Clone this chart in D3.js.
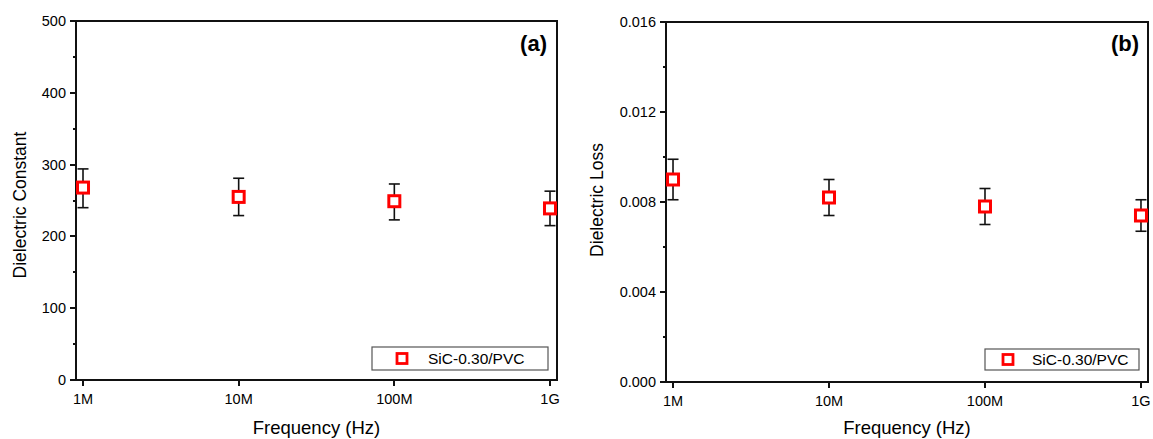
<!DOCTYPE html>
<html>
<head>
<meta charset="utf-8">
<script src="https://cdn.jsdelivr.net/npm/d3@7"></script>
<style>
  body { margin: 0; background: #fff; }
  svg { display: block; font-family: "Liberation Sans", Arial, sans-serif; }
  .axis-line { stroke: #111; stroke-width: 2; fill: none; shape-rendering: crispEdges; }
  .tick-line { stroke: #111; stroke-width: 2; shape-rendering: crispEdges; }
  .err { stroke: #111; stroke-width: 1.6; }
</style>
</head>
<body>
<svg id="chart" width="1153" height="439"></svg>
<script>
// ---- Data ----
var FREQS = [1e6, 1e7, 1e8, 1e9];
var FREQ_LABELS = ['1M', '10M', '100M', '1G'];
var SERIES_NAME = 'SiC-0.30/PVC';

var CONST_VALUES = [268, 255, 249, 239];
var CONST_ERR_LO = [240, 229, 223, 215];
var CONST_ERR_HI = [294, 281, 273, 263];
var CONST_TICKS = [0, 100, 200, 300, 400, 500];
var CONST_MINOR = [50, 150, 250, 350, 450];

var LOSS_VALUES = [0.0090, 0.0082, 0.0078, 0.0074];
var LOSS_ERR_LO = [0.0081, 0.0074, 0.0070, 0.0067];
var LOSS_ERR_HI = [0.0099, 0.0090, 0.0086, 0.0081];
var LOSS_TICKS = [0, 0.004, 0.008, 0.012, 0.016];
var LOSS_MINOR = [0.002, 0.006, 0.010, 0.014];

var svg = d3.select('#chart');

/**
 * Draw one panel: axes box, ticks, error bars, markers, legend, tag.
 */
function drawPanel(opt) {
  var x = d3.scaleLog()
    .domain([1e6 / Math.pow(10, 0.045), 1e9 * Math.pow(10, 0.045)])
    .range([opt.left, opt.right]);
  var y = d3.scaleLinear()
    .domain(opt.yDomain)
    .range([opt.bottom, opt.top]);

  var g = svg.append('g');

  // Frame (top and right without ticks)
  g.append('rect')
    .attr('class', 'axis-line')
    .attr('x', opt.left).attr('y', opt.top)
    .attr('width', opt.right - opt.left)
    .attr('height', opt.bottom - opt.top);

  // Y major ticks + labels
  opt.yTicks.forEach(function (v) {
    g.append('line').attr('class', 'tick-line')
      .attr('x1', opt.left - 6).attr('x2', opt.left)
      .attr('y1', y(v)).attr('y2', y(v));
    g.append('text')
      .attr('x', opt.left - 10).attr('y', y(v))
      .attr('dy', '0.35em')
      .attr('text-anchor', 'end')
      .attr('font-size', 14.5)
      .attr('fill', '#000')
      .text(opt.yFormat(v));
  });
  // Y minor ticks
  opt.yMinor.forEach(function (v) {
    g.append('line').attr('class', 'tick-line')
      .attr('x1', opt.left - 3).attr('x2', opt.left)
      .attr('y1', y(v)).attr('y2', y(v));
  });

  // X ticks + labels
  FREQS.forEach(function (f, i) {
    g.append('line').attr('class', 'tick-line')
      .attr('x1', x(f)).attr('x2', x(f))
      .attr('y1', opt.bottom).attr('y2', opt.bottom + 6);
    g.append('text')
      .attr('x', x(f)).attr('y', opt.bottom + 24)
      .attr('text-anchor', 'middle')
      .attr('font-size', 14.5)
      .attr('fill', '#000')
      .text(FREQ_LABELS[i]);
  });

  // Axis titles
  g.append('text')
    .attr('x', (opt.left + opt.right) / 2).attr('y', 434)
    .attr('text-anchor', 'middle')
    .attr('font-size', 18.5)
    .attr('fill', '#000')
    .text('Frequency (Hz)');
  g.append('text')
    .attr('transform', 'translate(' + opt.yTitleX + ',' + opt.yTitleY + ') rotate(-90)')
    .attr('text-anchor', 'middle')
    .attr('dy', '0.35em')
    .attr('font-size', 17.5)
    .attr('fill', '#000')
    .text(opt.yTitle);

  // Error bars
  var cap = 5.5;
  FREQS.forEach(function (f, i) {
    var cx = x(f);
    g.append('line').attr('class', 'err')
      .attr('x1', cx).attr('x2', cx)
      .attr('y1', y(opt.lo[i])).attr('y2', y(opt.hi[i]));
    [opt.lo[i], opt.hi[i]].forEach(function (v) {
      g.append('line').attr('class', 'err')
        .attr('x1', cx - cap).attr('x2', cx + cap)
        .attr('y1', y(v)).attr('y2', y(v));
    });
  });

  // Markers
  g.selectAll('rect.marker')
    .data(opt.values)
    .enter()
    .append('rect')
    .attr('class', 'marker')
    .attr('x', function (d, i) { return x(FREQS[i]) - 5.5; })
    .attr('y', function (d) { return y(d) - 5.5; })
    .attr('width', 11).attr('height', 11)
    .attr('fill', '#fff')
    .attr('stroke', '#ff0000')
    .attr('stroke-width', 3);

  // Legend
  var lg = opt.legend;
  g.append('rect')
    .attr('x', lg.x).attr('y', lg.y)
    .attr('width', lg.w).attr('height', lg.h)
    .attr('fill', '#fff')
    .attr('stroke', '#555')
    .attr('stroke-width', 1.2);
  g.append('rect')
    .attr('x', lg.mx - 5).attr('y', lg.y + lg.h / 2 - 5)
    .attr('width', 10).attr('height', 10)
    .attr('fill', '#fff')
    .attr('stroke', '#ff0000')
    .attr('stroke-width', 2.8);
  g.append('text')
    .attr('x', lg.tx).attr('y', lg.y + lg.h / 2)
    .attr('dy', '0.36em')
    .attr('font-size', 15.5)
    .attr('fill', '#000')
    .text(SERIES_NAME);

  // Panel tag
  g.append('text')
    .attr('x', opt.tagX).attr('y', 51)
    .attr('text-anchor', 'end')
    .attr('font-size', 22)
    .attr('font-weight', 'bold')
    .attr('fill', '#000')
    .text(opt.tag);
}

drawPanel({
  left: 76, right: 557, top: 21, bottom: 380,
  yDomain: [0, 500],
  yTicks: CONST_TICKS, yMinor: CONST_MINOR,
  yFormat: d3.format('d'),
  yTitle: 'Dielectric Constant', yTitleX: 20, yTitleY: 205,
  values: CONST_VALUES, lo: CONST_ERR_LO, hi: CONST_ERR_HI,
  legend: { x: 372, y: 347, w: 176, h: 23, mx: 402, tx: 428 },
  tag: '(a)', tagX: 547
});

drawPanel({
  left: 666, right: 1148, top: 22, bottom: 382,
  yDomain: [0, 0.016],
  yTicks: LOSS_TICKS, yMinor: LOSS_MINOR,
  yFormat: d3.format('.3f'),
  yTitle: 'Dielectric Loss', yTitleX: 597, yTitleY: 200,
  values: LOSS_VALUES, lo: LOSS_ERR_LO, hi: LOSS_ERR_HI,
  legend: { x: 985, y: 349, w: 154, h: 21, mx: 1008, tx: 1032 },
  tag: '(b)', tagX: 1139
});
</script>
</body>
</html>
